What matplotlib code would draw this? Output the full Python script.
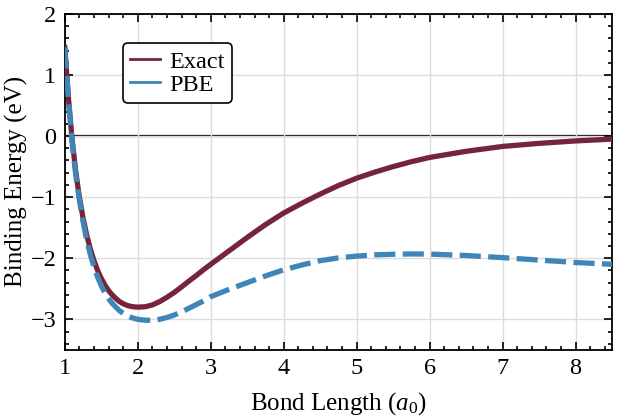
import matplotlib
matplotlib.use("Agg")
import matplotlib.pyplot as plt
from matplotlib.ticker import MultipleLocator

plt.rcParams["font.family"] = ["Liberation Serif", "DejaVu Serif"]
plt.rcParams["mathtext.fontset"] = "custom"
plt.rcParams["mathtext.it"] = "Liberation Serif:italic"
plt.rcParams["mathtext.rm"] = "Liberation Serif"

# bond length (a0) and binding energies (eV)
bond = [1.0, 1.05, 1.1, 1.15, 1.2, 1.25, 1.3, 1.35, 1.4, 1.45, 1.5, 1.55, 1.6, 1.65,
        1.7, 1.75, 1.8, 1.85, 1.9, 1.95, 2.0,
        2.1, 2.2, 2.3, 2.4, 2.5, 2.6, 2.7, 2.8, 2.9, 3.0,
        3.25, 3.5, 3.75, 4.0, 4.25, 4.5, 4.75, 5.0, 5.25, 5.5, 5.75, 6.0,
        6.5, 7.0, 7.5, 8.0, 8.5]
exact = [1.45, 0.62, -0.05, -0.58, -1.0, -1.34, -1.62, -1.85, -2.04, -2.2, -2.33,
         -2.44, -2.53, -2.60, -2.66, -2.71, -2.745, -2.77, -2.787, -2.797, -2.80,
         -2.795, -2.765, -2.71, -2.64, -2.56, -2.47, -2.375, -2.285, -2.19, -2.10,
         -1.88, -1.66, -1.45, -1.26, -1.10, -0.95, -0.81, -0.69, -0.59, -0.50,
         -0.42, -0.35, -0.25, -0.17, -0.12, -0.08, -0.05]
pbe = [1.45, 0.6, -0.1, -0.63, -1.05, -1.4, -1.7, -1.94, -2.14, -2.31, -2.45,
       -2.57, -2.66, -2.74, -2.80, -2.86, -2.90, -2.94, -2.965, -2.985, -3.0,
       -3.015, -3.015, -3.0, -2.97, -2.93, -2.88, -2.82, -2.76, -2.70, -2.63,
       -2.51, -2.40, -2.29, -2.19, -2.11, -2.04, -1.995, -1.965, -1.945, -1.935,
       -1.93, -1.932, -1.955, -1.99, -2.03, -2.07, -2.10]

fig = plt.figure(figsize=(6.17, 4.2), dpi=100)
ax = fig.add_axes([0.105, 0.167, 0.887, 0.8])

ax.axhline(0, color="black", lw=1.6, zorder=1)
ax.plot(bond, exact, color="#76243a", lw=3.8, label="Exact", zorder=3)
ax.plot(bond, pbe, color="#3f86b8", lw=3.8, ls=(0, (4, 1.4)), label="PBE", zorder=4)

ax.set_xlim(1, 8.5)
ax.set_ylim(-3.5, 2)
ax.xaxis.set_major_locator(MultipleLocator(1))
ax.xaxis.set_minor_locator(MultipleLocator(0.2))
ax.yaxis.set_major_locator(MultipleLocator(1))
ax.yaxis.set_minor_locator(MultipleLocator(0.2))
ax.tick_params(which="both", direction="in", top=True, right=True, labelsize=17.5,
               width=1.2)
ax.tick_params(which="major", length=6, pad=6)
ax.tick_params(which="minor", length=3)
ax.grid(True, which="major", color="#dcdcdc", lw=1)
for s in ax.spines.values():
    s.set_linewidth(1.3)

ax.set_xlabel(r"Bond Length ($a_0$)", fontsize=18, labelpad=8)
ax.set_ylabel("Binding Energy (eV)", fontsize=18, labelpad=2)

leg = ax.legend(loc="upper left", bbox_to_anchor=(0.106, 0.912), fontsize=17.5,
                handlelength=1.25, handletextpad=0.35, borderpad=0.3,
                labelspacing=0.05, fancybox=True, framealpha=1, borderaxespad=0)
leg.get_frame().set_edgecolor("black")
leg.get_frame().set_linewidth(1.2)
for line in leg.get_lines():
    line.set_linewidth(2)
    line.set_linestyle("-")

fig.savefig("out.png", dpi=100)
